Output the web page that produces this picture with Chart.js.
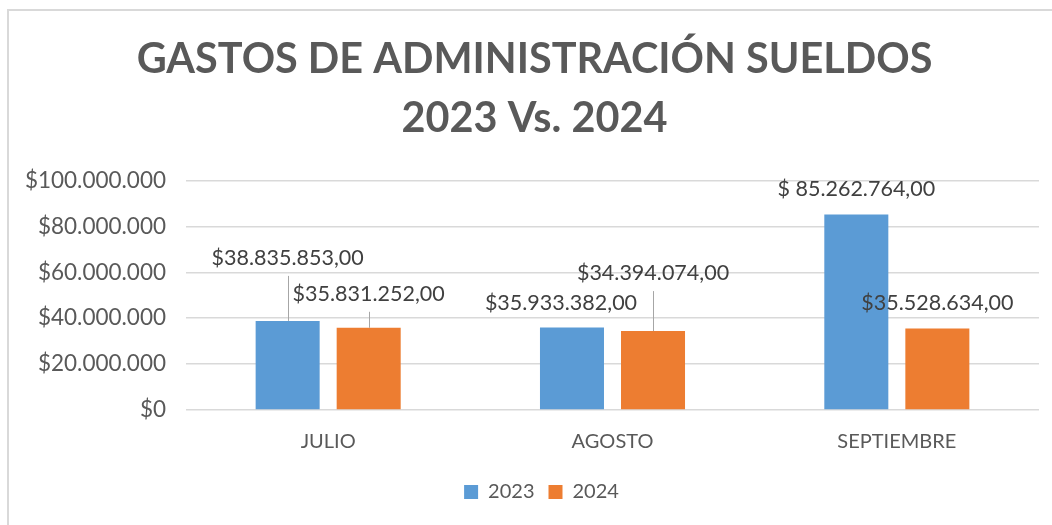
<!DOCTYPE html>
<html>
<head>
<meta charset="utf-8">
<script src="https://cdn.jsdelivr.net/npm/chart.js@4"></script>
<style>
  body { margin: 0; background: #fff; }
  #wrap { width: 1052px; height: 525px; position: relative; }
</style>
</head>
<body>
<div id="wrap"><canvas id="chart_gastos"></canvas></div>
<script>
const categories = ["JULIO", "AGOSTO", "SEPTIEMBRE"];
const values2023 = [38835853, 35933382, 85262764];
const values2024 = [35831252, 34394074, 35528634];
const labels2023 = ["$38.835.853,00", "$35.933.382,00", "$ 85.262.764,00"];
const labels2024 = ["$35.831.252,00", "$34.394.074,00", "$35.528.634,00"];
const yTicks = [0, 20000000, 40000000, 60000000, 80000000, 100000000];

// label placement: [dx, rise above bar, leader line]
const place2023 = [[0, 63, true], [-11, 24, false], [0, 25, false]];
const place2024 = [[0, 34, true], [0, 58, true], [0, 25, false]];

const FONT = "Lato";
const GREY = "#595959";

function money(v) {
  return "$" + String(v).replace(/\B(?=(\d{3})+(?!\d))/g, ".");
}

const frame = {
  id: "frame",
  afterLayout(chart) {
    // title and legend sit a bit right of the canvas centre
    chart.titleBlock.left += 20;
    chart.legend.left += 34;
    chart.legend.top += 2;
    chart.legend.bottom += 2;
  },
  beforeDraw(chart) {
    const ctx = chart.ctx;
    ctx.save();
    ctx.strokeStyle = "#d9d9d9";
    ctx.lineWidth = 2;
    ctx.beginPath();
    ctx.moveTo(8, chart.height);
    ctx.lineTo(8, 10);
    ctx.lineTo(chart.width, 10);
    ctx.stroke();
    ctx.restore();
  },
};

const barLabels = {
  id: "barLabels",
  afterDatasetsDraw(chart) {
    const ctx = chart.ctx;
    const texts = [labels2023, labels2024];
    const places = [place2023, place2024];
    ctx.save();
    ctx.font = "21.5px " + FONT;
    ctx.fillStyle = "#404040";
    ctx.textAlign = "center";
    ctx.textBaseline = "middle";
    chart.data.datasets.forEach((ds, i) => {
      chart.getDatasetMeta(i).data.forEach((bar, j) => {
        const [dx, rise, leader] = places[i][j];
        const ty = bar.y - rise;
        if (leader) {
          ctx.strokeStyle = "#a6a6a6";
          ctx.lineWidth = 1;
          ctx.beginPath();
          ctx.moveTo(Math.round(bar.x) + 0.5, bar.y);
          ctx.lineTo(Math.round(bar.x) + 0.5, ty + 18);
          ctx.stroke();
        }
        ctx.fillText(texts[i][j], bar.x + dx, ty);
      });
    });
    ctx.restore();
  },
};

new Chart(document.getElementById("chart_gastos"), {
  type: "bar",
  data: {
    labels: categories,
    datasets: [
      {
        label: "2023",
        data: values2023,
        backgroundColor: "#5b9bd5",
        categoryPercentage: 0.57,
        barPercentage: 0.79,
      },
      {
        label: "2024",
        data: values2024,
        backgroundColor: "#ed7d31",
        categoryPercentage: 0.57,
        barPercentage: 0.79,
      },
    ],
  },
  options: {
    responsive: true,
    maintainAspectRatio: false,
    animation: false,
    layout: {
      padding: { left: 10, right: 13, top: 30, bottom: 15 },
    },
    scales: {
      y: {
        min: 0,
        max: 100000000,
        afterBuildTicks: (scale) => {
          scale.ticks = yTicks.map((v) => ({ value: v }));
        },
        afterFit: (scale) => {
          scale.width = 176;
        },
        grid: { color: "#d9d9d9", lineWidth: 1.5, drawTicks: false },
        border: { display: false },
        ticks: {
          padding: 20,
          color: GREY,
          font: { family: FONT, size: 22.5 },
          callback: (v) => money(v),
        },
      },
      x: {
        grid: { display: false },
        border: { display: false },
        ticks: {
          padding: 12,
          color: GREY,
          font: { family: FONT, size: 20 },
        },
      },
    },
    plugins: {
      title: {
        display: true,
        text: ["GASTOS DE ADMINISTRACIÓN SUELDOS", "2023 Vs. 2024"],
        color: GREY,
        font: { family: FONT, size: 41.4, weight: "bold", lineHeight: 1.42 },
        padding: { top: 0, bottom: 33 },
      },
      legend: {
        position: "bottom",
        labels: {
          color: GREY,
          font: { family: FONT, size: 20 },
          boxWidth: 14,
          boxHeight: 14,
          padding: 14,
        },
      },
      tooltip: { enabled: false },
    },
  },
  plugins: [frame, barLabels],
});
</script>
</body>
</html>
